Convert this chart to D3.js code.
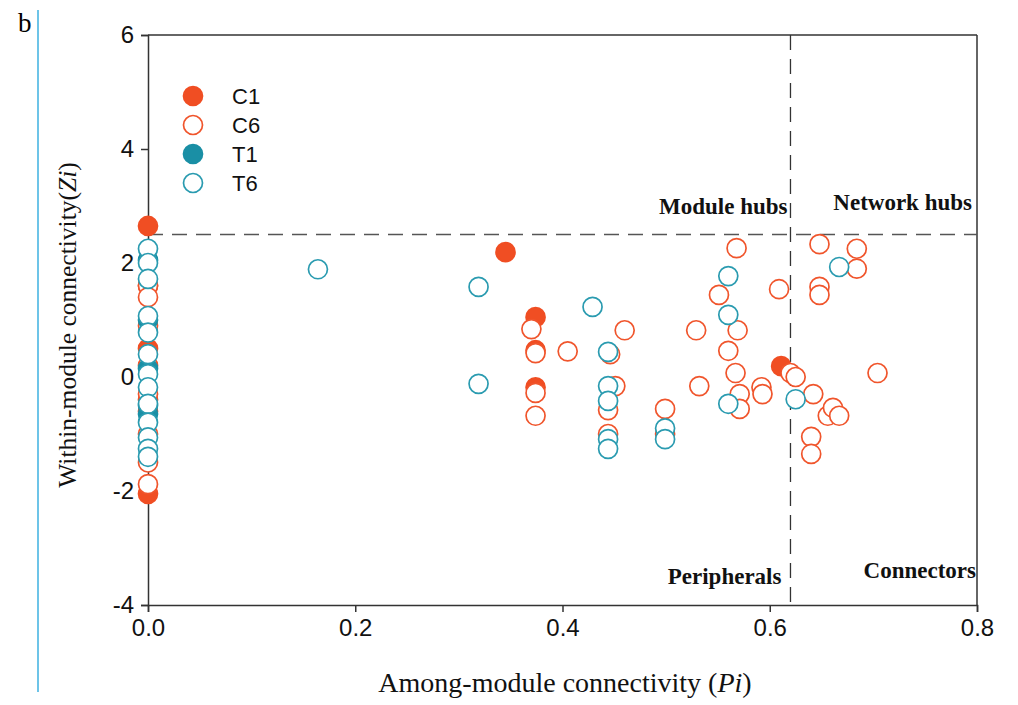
<!DOCTYPE html>
<html><head><meta charset="utf-8">
<script src="https://cdn.jsdelivr.net/npm/d3@7/dist/d3.min.js"></script>
<style>body{margin:0;background:#fff}</style>
</head><body>
<svg id="chart" width="1018" height="705"></svg>
<script>
// Data: [Pi, Zi]
const C1 = [[0,2.65],[0,1.6],[0,0.5],[0,-0.4],[0,-0.6],[0,-2.05],
  [0.345,2.19],[0.374,1.05],[0.374,0.47],[0.374,-0.18],[0.611,0.19]];
const C6 = [[0,1.6],[0,1.4],[0,0.9],[0,0.2],[0,-0.3],[0,-1.0],[0,-1.5],[0,-1.88],
  [0.37,0.84],[0.374,0.42],[0.374,-0.28],[0.374,-0.68],[0.405,0.45],[0.46,0.82],
  [0.446,0.40],[0.451,-0.16],[0.444,-0.58],[0.444,-1.0],[0.499,-0.56],[0.499,-1.0],
  [0.529,0.82],[0.532,-0.16],[0.551,1.44],[0.568,2.26],[0.569,0.82],[0.56,0.46],
  [0.567,0.07],[0.571,-0.3],[0.571,-0.56],[0.592,-0.18],[0.593,-0.3],[0.609,1.54],
  [0.62,0.07],[0.625,0.0],[0.642,-0.3],[0.648,2.33],[0.648,1.58],[0.648,1.44],
  [0.684,2.25],[0.684,1.9],[0.704,0.07],[0.656,-0.68],[0.661,-0.54],[0.667,-0.68],
  [0.64,-1.05],[0.64,-1.35]];
const T1 = [[0,2.05],[0,1.0],[0,0.15],[0,-0.5],[0,-0.65]];
const T6 = [[0,2.25],[0,2.0],[0,1.72],[0,1.07],[0,0.78],[0,0.4],[0,0.05],[0,-0.18],
  [0,-0.47],[0,-0.8],[0,-1.06],[0,-1.26],[0,-1.4],
  [0.164,1.89],[0.319,1.58],[0.319,-0.12],[0.429,1.23],[0.444,0.44],[0.444,-0.16],
  [0.444,-0.42],[0.444,-1.09],[0.444,-1.26],[0.499,-0.9],[0.499,-1.09],[0.56,1.77],
  [0.56,1.09],[0.56,-0.47],[0.625,-0.39],[0.667,1.93]];
const xTicks = [0, 0.2, 0.4, 0.6, 0.8];
const xTickLabels = ["0.0","0.2","0.4","0.6","0.8"];
const yTicks = [-4,-2,0,2,4,6];
const yTickLabels = ["-4","-2","0","2","4","6"];
const seriesNames = ["C1","C6","T1","T6"];
const zThreshold = 2.5, pThreshold = 0.62;

const orange = "#f04e23", teal = "#1a8fa5";
const styles = {
  C1:{fill:orange, stroke:orange},
  C6:{fill:"#fff", stroke:"#f0552c"},
  T1:{fill:teal, stroke:teal},
  T6:{fill:"#fff", stroke:"#2a9bb0"}
};
const seriesData = {C1, C6, T1, T6};

const svg = d3.select("#chart");
const m = {l:148, t:35, r:41, b:100};
const W = 1018, H = 705;
const x = d3.scaleLinear().domain([0,0.8]).range([m.l, W-m.r]);
const y = d3.scaleLinear().domain([-4,6]).range([H-m.b, m.t]);

// page decorations
svg.append("line").attr("x1",38).attr("x2",38).attr("y1",10).attr("y2",692)
  .attr("stroke","#3cb0e0").attr("stroke-width",1.5);
svg.append("text").attr("x",18).attr("y",32).text("b")
  .attr("font-family","Liberation Serif, serif").style("font-size","27px");

// frame
const axisColor = "#333";
svg.append("line").attr("x1",x(0)).attr("x2",x(0.8)).attr("y1",y(6)).attr("y2",y(6))
  .attr("stroke",axisColor).attr("stroke-width",1.5);
svg.append("line").attr("x1",x(0.8)).attr("x2",x(0.8)).attr("y1",y(6)).attr("y2",y(-4))
  .attr("stroke",axisColor).attr("stroke-width",1.5);

// axes
const xAxis = svg.append("g").attr("transform",`translate(0,${y(-4)})`)
  .call(d3.axisBottom(x).tickValues(xTicks).tickFormat((d,i)=>xTickLabels[i]).tickSizeOuter(0).tickSize(7).tickPadding(7));
const yAxis = svg.append("g").attr("transform",`translate(${x(0)},0)`)
  .call(d3.axisLeft(y).tickValues(yTicks).tickFormat((d,i)=>yTickLabels[i]).tickSizeOuter(0).tickSize(7).tickPadding(7));
[xAxis,yAxis].forEach(a=>{
  a.attr("font-size",null);
  a.select(".domain").attr("stroke",axisColor).attr("stroke-width",1.5);
  a.selectAll(".tick line").attr("stroke",axisColor).attr("stroke-width",1.5);
  a.selectAll(".tick text").attr("font-family","Liberation Sans, Arial, sans-serif")
    .style("font-size","24px").attr("fill","#111");
});

// threshold dashed lines
svg.append("line").attr("x1",x(0)).attr("x2",x(0.8)).attr("y1",y(zThreshold)).attr("y2",y(zThreshold))
  .attr("stroke","#555").attr("stroke-width",1.3).attr("stroke-dasharray","15,9");
svg.append("line").attr("x1",x(pThreshold)).attr("x2",x(pThreshold)).attr("y1",y(6)).attr("y2",y(-4))
  .attr("stroke","#333").attr("stroke-width",1.3).attr("stroke-dasharray","15,9");

// quadrant labels
const qf = "Liberation Serif, 'Times New Roman', serif";
function qlabel(tx, ty, txt, anchor){
  svg.append("text").attr("x",tx).attr("y",ty).text(txt).attr("text-anchor",anchor)
    .attr("font-family",qf).attr("font-weight","bold").style("font-size","23px").attr("fill","#111");
}
qlabel(x(pThreshold)-3, 214, "Module hubs", "end");
qlabel(x(0.8)-5, 210, "Network hubs", "end");
qlabel(x(pThreshold)-9, 584, "Peripherals", "end");
qlabel(x(0.8)-1, 578, "Connectors", "end");

// points
const R = 9.5;
seriesNames.forEach(name=>{
  const st = styles[name];
  svg.append("g").selectAll("circle").data(seriesData[name]).join("circle")
    .attr("cx",d=>x(d[0])).attr("cy",d=>y(d[1])).attr("r",R)
    .attr("fill",st.fill).attr("stroke",st.stroke).attr("stroke-width",1.7);
});

// legend
const lg = svg.append("g");
seriesNames.forEach((name,i)=>{
  const st = styles[name];
  const cy = 96 + i*29;
  lg.append("circle").attr("cx",193).attr("cy",cy).attr("r",R)
    .attr("fill",st.fill).attr("stroke",st.stroke).attr("stroke-width",1.7);
  lg.append("text").attr("x",232).attr("y",cy+8).text(name)
    .attr("font-family","Liberation Sans, Arial, sans-serif").style("font-size","22px").attr("fill","#111");
});

// axis titles
const xt = svg.append("text").attr("x",565).attr("y",692).attr("text-anchor","middle")
  .attr("font-family",qf).style("font-size","28px").attr("fill","#111");
xt.append("tspan").text("Among-module connectivity (");
xt.append("tspan").attr("font-style","italic").text("Pi");
xt.append("tspan").text(")");
const yt = svg.append("text").attr("transform","translate(76,325) rotate(-90)").attr("text-anchor","middle")
  .attr("font-family",qf).style("font-size","25.5px").attr("fill","#111");
yt.append("tspan").text("Within-module connectivity(");
yt.append("tspan").attr("font-style","italic").text("Zi");
yt.append("tspan").text(")");
</script>
</body></html>
